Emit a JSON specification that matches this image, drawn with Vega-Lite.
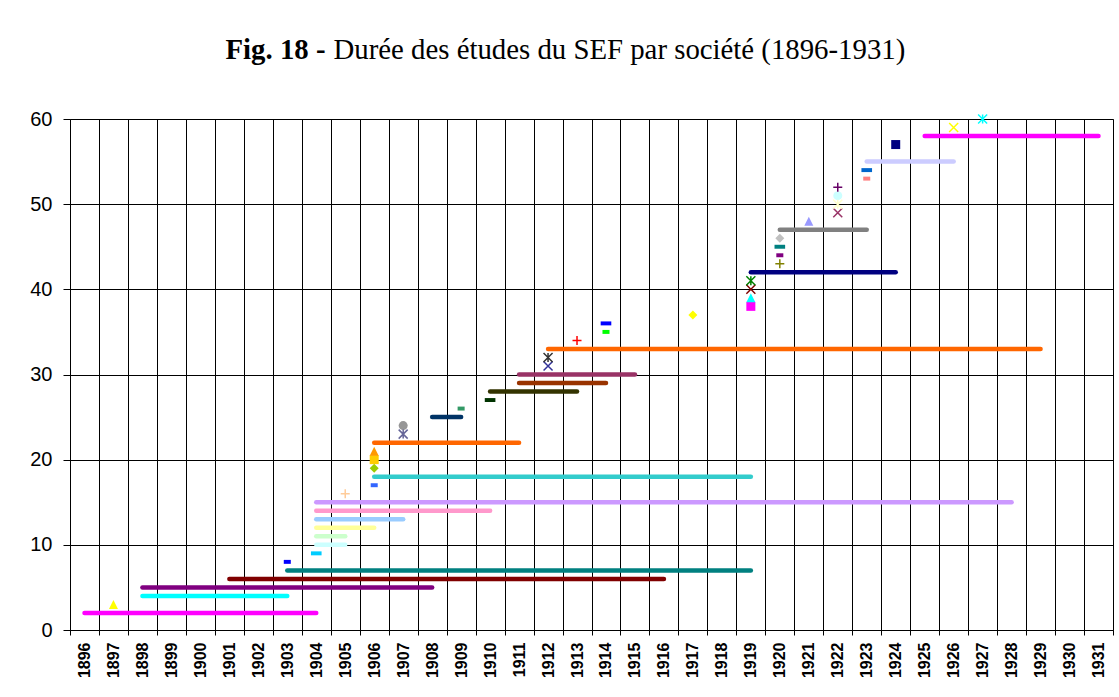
{
  "$schema": "https://vega.github.io/schema/vega-lite/v6.json",
  "width": 1043,
  "height": 511,
  "autosize": {"type": "none"},
  "padding": {"left": 70, "top": 119, "right": 6, "bottom": 67},
  "background": "white",
  "config": {
    "font": "Liberation Sans",
    "view": {"stroke": "#808080", "strokeWidth": 1}
  },
  "data": {
    "values": [
      {"societe": 2, "debut": 1896, "fin": 1904},
      {"societe": 3, "debut": 1897, "fin": 1897},
      {"societe": 4, "debut": 1898, "fin": 1903},
      {"societe": 5, "debut": 1898, "fin": 1908},
      {"societe": 6, "debut": 1901, "fin": 1916},
      {"societe": 7, "debut": 1903, "fin": 1919},
      {"societe": 8, "debut": 1903, "fin": 1903},
      {"societe": 9, "debut": 1904, "fin": 1904},
      {"societe": 10, "debut": 1904, "fin": 1905},
      {"societe": 11, "debut": 1904, "fin": 1905},
      {"societe": 12, "debut": 1904, "fin": 1906},
      {"societe": 13, "debut": 1904, "fin": 1907},
      {"societe": 14, "debut": 1904, "fin": 1910},
      {"societe": 15, "debut": 1904, "fin": 1928},
      {"societe": 16, "debut": 1905, "fin": 1905},
      {"societe": 17, "debut": 1906, "fin": 1906},
      {"societe": 18, "debut": 1906, "fin": 1919},
      {"societe": 19, "debut": 1906, "fin": 1906},
      {"societe": 20, "debut": 1906, "fin": 1906},
      {"societe": 21, "debut": 1906, "fin": 1906},
      {"societe": 22, "debut": 1906, "fin": 1911},
      {"societe": 23, "debut": 1907, "fin": 1907},
      {"societe": 24, "debut": 1907, "fin": 1907},
      {"societe": 25, "debut": 1908, "fin": 1909},
      {"societe": 26, "debut": 1909, "fin": 1909},
      {"societe": 27, "debut": 1910, "fin": 1910},
      {"societe": 28, "debut": 1910, "fin": 1913},
      {"societe": 29, "debut": 1911, "fin": 1914},
      {"societe": 30, "debut": 1911, "fin": 1915},
      {"societe": 31, "debut": 1912, "fin": 1912},
      {"societe": 32, "debut": 1912, "fin": 1912},
      {"societe": 33, "debut": 1912, "fin": 1929},
      {"societe": 34, "debut": 1913, "fin": 1913},
      {"societe": 35, "debut": 1914, "fin": 1914},
      {"societe": 36, "debut": 1914, "fin": 1914},
      {"societe": 37, "debut": 1917, "fin": 1917},
      {"societe": 38, "debut": 1919, "fin": 1919},
      {"societe": 39, "debut": 1919, "fin": 1919},
      {"societe": 40, "debut": 1919, "fin": 1919},
      {"societe": 41, "debut": 1919, "fin": 1919},
      {"societe": 42, "debut": 1919, "fin": 1924},
      {"societe": 43, "debut": 1920, "fin": 1920},
      {"societe": 44, "debut": 1920, "fin": 1920},
      {"societe": 45, "debut": 1920, "fin": 1920},
      {"societe": 46, "debut": 1920, "fin": 1920},
      {"societe": 47, "debut": 1920, "fin": 1923},
      {"societe": 48, "debut": 1921, "fin": 1921},
      {"societe": 49, "debut": 1922, "fin": 1922},
      {"societe": 50, "debut": 1922, "fin": 1922},
      {"societe": 51, "debut": 1922, "fin": 1922},
      {"societe": 52, "debut": 1922, "fin": 1922},
      {"societe": 53, "debut": 1923, "fin": 1923},
      {"societe": 54, "debut": 1923, "fin": 1923},
      {"societe": 55, "debut": 1923, "fin": 1926},
      {"societe": 57, "debut": 1924, "fin": 1924},
      {"societe": 58, "debut": 1925, "fin": 1931},
      {"societe": 59, "debut": 1926, "fin": 1926},
      {"societe": 60, "debut": 1927, "fin": 1927}
    ]
  },
  "encoding": {
    "x": {
      "field": "debut",
      "type": "ordinal",
      "bandPosition": 0.5,
      "scale": {
        "type": "band",
        "paddingInner": 0,
        "paddingOuter": 0,
        "domain": [1896,1897,1898,1899,1900,1901,1902,1903,1904,1905,1906,1907,1908,1909,1910,1911,1912,1913,1914,1915,1916,1917,1918,1919,1920,1921,1922,1923,1924,1925,1926,1927,1928,1929,1930,1931]
      },
      "axis": {
        "title": "Durée des études du SEF par société (1896-1931)",
        "titleFont": "Liberation Serif",
        "titleFontSize": 28.8,
        "titleFontWeight": "normal",
        "titleColor": "#000000",
        "titleX": 263,
        "titleY": -571.7,
        "titleAlign": "left",
        "titleBaseline": "alphabetic",
        "tickBand": "extent",
        "grid": true,
        "gridColor": "#000000",
        "gridOpacity": 1,
        "gridWidth": 1,
        "tickColor": "#000000",
        "tickSize": 5,
        "domainColor": "#000000",
        "labelAngle": 270,
        "labelFont": "Liberation Sans",
        "labelFontWeight": "bold",
        "labelFontSize": 16,
        "labelPadding": 7,
        "labelColor": "#000000",
        "labelOverlap": false
      }
    },
    "y": {
      "field": "societe",
      "type": "quantitative",
      "scale": {"domain": [0, 60], "nice": false},
      "axis": {
        "values": [0, 10, 20, 30, 40, 50, 60],
        "grid": true,
        "gridColor": "#000000",
        "gridOpacity": 1,
        "tickColor": "#000000",
        "tickSize": 7,
        "domainColor": "#000000",
        "labelFont": "Liberation Sans",
        "labelFontSize": 20,
        "labelPadding": 11,
        "labelColor": "#000000",
        "title": "Fig. 18 -",
        "titleFont": "Liberation Serif",
        "titleFontWeight": "bold",
        "titleFontSize": 28.8,
        "titleColor": "#000000",
        "titleAngle": 0,
        "titleX": 155,
        "titleY": -60.7,
        "titleAlign": "left",
        "titleBaseline": "alphabetic"
      }
    },
    "color": {
      "field": "societe",
      "type": "nominal",
      "legend": null,
      "scale": {
        "domain": [2,3,4,5,6,7,8,9,10,11,12,13,14,15,16,17,18,19,20,21,22,23,24,25,26,27,28,29,30,31,32,33,34,35,36,37,38,39,40,41,42,43,44,45,46,47,48,49,50,51,52,53,54,55,57,58,59,60],
        "range": ["#FF00FF","#FFFF00","#00FFFF","#800080","#800000","#008080","#0000FF","#00CCFF","#CCFFFF","#CCFFCC","#FFFF99","#99CCFF","#FF99CC","#CC99FF","#FFCC99","#3366FF","#33CCCC","#99CC00","#FFCC00","#FF9900","#FF6600","#666699","#969696","#003366","#339966","#003300","#333300","#993300","#993366","#333399","#333333","#FF6600","#FF0000","#00FF00","#0000FF","#FFFF00","#FF00FF","#00FFFF","#800000","#008000","#000080","#808000","#800080","#008080","#C0C0C0","#808080","#9999FF","#993366","#FFFFCC","#CCFFFF","#660066","#FF8080","#0066CC","#CCCCFF","#000080","#FF00FF","#FFFF00","#00FFFF"]
      }
    }
  },
  "layer": [
    {
      "transform": [{"filter": "datum.debut != datum.fin"}],
      "mark": {"type": "rule", "strokeWidth": 4.5, "strokeCap": "round"},
      "encoding": {
        "x2": {"field": "fin", "bandPosition": 0.5}
      }
    },
    {
      "transform": [{"filter": {"field": "societe", "oneOf": [3,8,9,17,19,20,21,24,26,27,35,36,37,38,39,44,45,46,48,51,53,54,57]}}],
      "mark": {"type": "point", "filled": true, "size": 81, "opacity": 1, "strokeWidth": 0},
      "encoding": {
        "shape": {
          "field": "societe",
          "type": "nominal",
          "legend": null,
          "scale": {
            "domain": [3,8,9,16,17,19,20,21,23,24,26,27,31,32,34,35,36,37,38,39,40,41,43,44,45,46,48,49,50,51,52,53,54,57,59,60],
            "range": ["M0,-1L1,1L-1,1Z","M-0.78,-0.44L0.78,-0.44L0.78,0.44L-0.78,0.44Z","M-1.18,-0.44L1.18,-0.44L1.18,0.44L-1.18,0.44Z","M-1,0L1,0M0,-1L0,1","M-0.78,-0.44L0.78,-0.44L0.78,0.44L-0.78,0.44Z","diamond","square","M0,-1L1,1L-1,1Z","M-1,-1L1,1M-1,1L1,-1M0,-1L0,1","circle","M-0.78,-0.44L0.78,-0.44L0.78,0.44L-0.78,0.44Z","M-1.18,-0.44L1.18,-0.44L1.18,0.44L-1.18,0.44Z","M-1,-1L1,1M-1,1L1,-1","M-1,-1L1,1M-1,1L1,-1M0,-1L0,1","M-1,0L1,0M0,-1L0,1","M-0.78,-0.44L0.78,-0.44L0.78,0.44L-0.78,0.44Z","M-1.18,-0.44L1.18,-0.44L1.18,0.44L-1.18,0.44Z","diamond","square","M0,-1L1,1L-1,1Z","M-1,-1L1,1M-1,1L1,-1","M-1,-1L1,1M-1,1L1,-1M0,-1L0,1","M-1,0L1,0M0,-1L0,1","M-0.78,-0.44L0.78,-0.44L0.78,0.44L-0.78,0.44Z","M-1.18,-0.44L1.18,-0.44L1.18,0.44L-1.18,0.44Z","diamond","M0,-1L1,1L-1,1Z","M-1,-1L1,1M-1,1L1,-1","M-1,-1L1,1M-1,1L1,-1M0,-1L0,1","circle","M-1,0L1,0M0,-1L0,1","M-0.78,-0.44L0.78,-0.44L0.78,0.44L-0.78,0.44Z","M-1.18,-0.44L1.18,-0.44L1.18,0.44L-1.18,0.44Z","square","M-1,-1L1,1M-1,1L1,-1","M-1,-1L1,1M-1,1L1,-1M0,-1L0,1"]
          }
        }
      }
    },
    {
      "transform": [{"filter": {"field": "societe", "oneOf": [16,23,31,32,34,40,41,43,49,50,52,59,60]}}],
      "mark": {"type": "point", "filled": false, "size": 81, "opacity": 1, "strokeWidth": 1.5},
      "encoding": {
        "shape": {
          "field": "societe",
          "type": "nominal",
          "legend": null,
          "scale": {
            "domain": [3,8,9,16,17,19,20,21,23,24,26,27,31,32,34,35,36,37,38,39,40,41,43,44,45,46,48,49,50,51,52,53,54,57,59,60],
            "range": ["M0,-1L1,1L-1,1Z","M-0.78,-0.44L0.78,-0.44L0.78,0.44L-0.78,0.44Z","M-1.18,-0.44L1.18,-0.44L1.18,0.44L-1.18,0.44Z","M-1,0L1,0M0,-1L0,1","M-0.78,-0.44L0.78,-0.44L0.78,0.44L-0.78,0.44Z","diamond","square","M0,-1L1,1L-1,1Z","M-1,-1L1,1M-1,1L1,-1M0,-1L0,1","circle","M-0.78,-0.44L0.78,-0.44L0.78,0.44L-0.78,0.44Z","M-1.18,-0.44L1.18,-0.44L1.18,0.44L-1.18,0.44Z","M-1,-1L1,1M-1,1L1,-1","M-1,-1L1,1M-1,1L1,-1M0,-1L0,1","M-1,0L1,0M0,-1L0,1","M-0.78,-0.44L0.78,-0.44L0.78,0.44L-0.78,0.44Z","M-1.18,-0.44L1.18,-0.44L1.18,0.44L-1.18,0.44Z","diamond","square","M0,-1L1,1L-1,1Z","M-1,-1L1,1M-1,1L1,-1","M-1,-1L1,1M-1,1L1,-1M0,-1L0,1","M-1,0L1,0M0,-1L0,1","M-0.78,-0.44L0.78,-0.44L0.78,0.44L-0.78,0.44Z","M-1.18,-0.44L1.18,-0.44L1.18,0.44L-1.18,0.44Z","diamond","M0,-1L1,1L-1,1Z","M-1,-1L1,1M-1,1L1,-1","M-1,-1L1,1M-1,1L1,-1M0,-1L0,1","circle","M-1,0L1,0M0,-1L0,1","M-0.78,-0.44L0.78,-0.44L0.78,0.44L-0.78,0.44Z","M-1.18,-0.44L1.18,-0.44L1.18,0.44L-1.18,0.44Z","square","M-1,-1L1,1M-1,1L1,-1","M-1,-1L1,1M-1,1L1,-1M0,-1L0,1"]
          }
        }
      }
    }
  ]
}
